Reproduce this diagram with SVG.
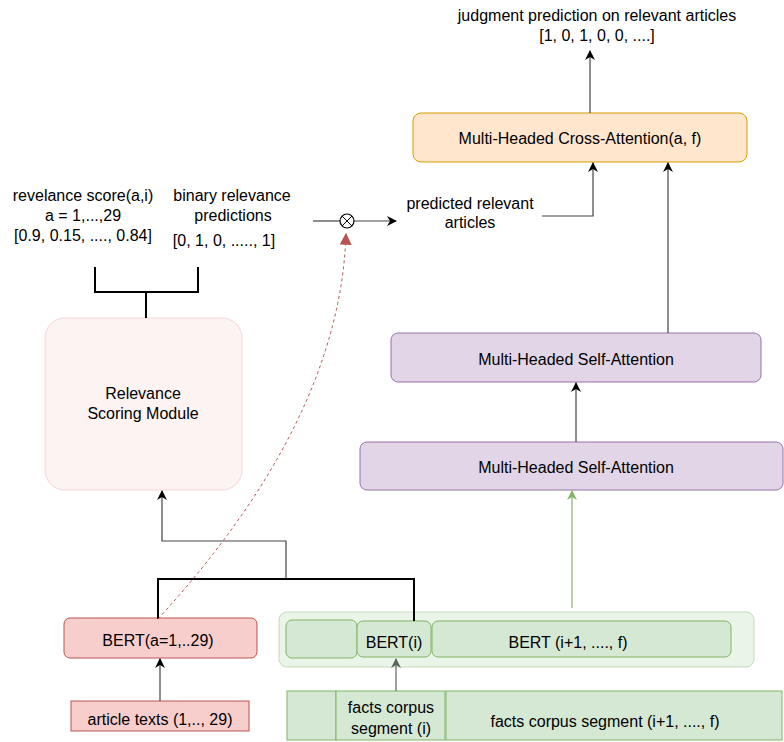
<svg xmlns="http://www.w3.org/2000/svg" width="784" height="742" viewBox="0 0 784 742">
<defs>
<marker id="arr" viewBox="0 0 10 10" refX="9" refY="5" markerWidth="10" markerHeight="10" markerUnits="userSpaceOnUse" orient="auto">
<path d="M0,0 L10,5 L0,10 L3,5 Z" fill="#000"/>
</marker>
<marker id="arrG" viewBox="0 0 10 10" refX="9" refY="5" markerWidth="10" markerHeight="10" markerUnits="userSpaceOnUse" orient="auto">
<path d="M0,0 L10,5 L0,10 L3,5 Z" fill="#82b366"/>
</marker>
<marker id="arrD" viewBox="0 0 10 10" refX="9" refY="5" markerWidth="10" markerHeight="10" markerUnits="userSpaceOnUse" orient="auto">
<path d="M0,0 L10,5 L0,10 L3,5 Z" fill="#5a645c"/>
</marker>
<marker id="arrR" viewBox="0 0 10 10" refX="9" refY="5" markerWidth="14" markerHeight="12" markerUnits="userSpaceOnUse" orient="auto">
<path d="M0,0 L10,5 L0,10 Z" fill="#b85450"/>
</marker>
</defs>
<style>
text{font-family:"Liberation Sans",Arial,sans-serif;font-size:16px;fill:#000;text-anchor:middle;dominant-baseline:central}
.ln{fill:none;stroke:#444;stroke-width:1.2}
.thick{fill:none;stroke:#000;stroke-width:2}
.red{fill:#f8cecc;stroke:#b85450;stroke-width:1}
.grn{fill:#d5e8d4;stroke:#82b366;stroke-width:1}
.pur{fill:#e1d5e7;stroke:#9673a6;stroke-width:1}
</style>
<rect width="784" height="742" fill="#fff"/>

<g id="judgment">
<text x="597" y="15">judgment prediction on relevant articles</text>
<text x="597" y="35">[1, 0, 1, 0, 0, ....]</text>
</g>

<g id="cross-attention">
<rect x="413" y="113" width="334" height="49" rx="8" fill="#ffe6cc" stroke="#d79b00" stroke-width="1"/>
<text x="580" y="138">Multi-Headed Cross-Attention(a, f)</text>
</g>

<g id="predicted">
<text x="470" y="203">predicted relevant</text>
<text x="470" y="222">articles</text>
</g>

<g id="relevance-score">
<text x="83" y="195">revelance score(a,i)</text>
<text x="83" y="215">a = 1,...,29</text>
<text x="83" y="235">[0.9, 0.15, ...., 0.84]</text>
</g>

<g id="binary">
<text x="232" y="195">binary relevance</text>
<text x="233" y="215">predictions</text>
<text x="224" y="240">[0, 1, 0, ....., 1]</text>
</g>

<g id="self-attention-2">
<rect class="pur" x="391" y="333" width="370" height="49" rx="7"/>
<text x="576" y="359">Multi-Headed Self-Attention</text>
</g>

<g id="self-attention-1">
<rect class="pur" x="360" y="442" width="423" height="48" rx="7"/>
<text x="576" y="467">Multi-Headed Self-Attention</text>
</g>

<g id="relevance-module">
<rect x="45" y="318" width="197" height="172" rx="20" fill="#fdf3f3" stroke="#f6d6d5" stroke-width="1"/>
<text x="143" y="393">Relevance</text>
<text x="143" y="413">Scoring Module</text>
</g>

<g id="bert-a">
<rect class="red" x="64" y="618" width="193" height="40" rx="6"/>
<text x="158" y="640">BERT(a=1,..29)</text>
</g>

<g id="article-texts">
<rect class="red" x="71" y="701" width="178" height="30"/>
<text x="160" y="719">article texts (1,.., 29)</text>
</g>

<g id="bert-container">
<rect x="279" y="612" width="475" height="55" rx="8" fill="#eaf4e9" stroke="#c3dcb8" stroke-width="1"/>
</g>
<g id="bert-prev">
<rect class="grn" x="286" y="620" width="71" height="38" rx="6"/>
</g>
<g id="bert-i">
<rect class="grn" x="357" y="621" width="74" height="36" rx="6"/>
<text x="394" y="642">BERT(i)</text>
</g>
<g id="bert-rest">
<rect class="grn" x="432" y="621" width="299" height="36" rx="6"/>
<text x="568" y="642">BERT (i+1, ...., f)</text>
</g>

<g id="facts-prev">
<rect class="grn" x="287" y="691" width="49" height="49"/>
</g>
<g id="facts-i">
<rect class="grn" x="336" y="691" width="109" height="49"/>
<text x="391" y="707">facts corpus</text>
<text x="391" y="728">segment (i)</text>
</g>
<g id="facts-rest">
<rect class="grn" x="446" y="691" width="336" height="49"/>
<text x="605" y="721">facts corpus segment (i+1, ...., f)</text>
</g>

<g id="connectors">
<line class="ln" x1="590" y1="113" x2="590" y2="51" marker-end="url(#arr)"/>
<polyline class="ln" points="542,216 593,216 593,163" marker-end="url(#arr)"/>
<line class="ln" x1="668" y1="333" x2="668" y2="163" marker-end="url(#arr)"/>
<line class="ln" x1="576" y1="442" x2="576" y2="383" marker-end="url(#arr)"/>
<line x1="572" y1="608" x2="572" y2="491" stroke="#82b366" stroke-width="1.2" marker-end="url(#arrG)"/>
<line class="ln" x1="313" y1="221" x2="340" y2="221"/>
<line class="ln" x1="354" y1="221" x2="396" y2="221" marker-end="url(#arr)"/>
<polyline class="thick" points="95,267 95,292 198,292 198,267"/>
<line class="thick" x1="146" y1="292" x2="146" y2="318"/>
<polyline class="ln" points="286,579 286,541 162,541 162,491" marker-end="url(#arr)"/>
<polyline class="thick" points="158,619 158,579 414,579 414,621"/>
<line class="ln" x1="160" y1="701" x2="160" y2="659" marker-end="url(#arr)"/>
<line x1="396" y1="691" x2="396" y2="659" stroke="#5a645c" stroke-width="1.2" marker-end="url(#arrD)"/>
<path d="M158,619 Q340,420 346,234" fill="none" stroke="#b85450" stroke-width="1" stroke-dasharray="3,3" marker-end="url(#arrR)"/>
</g>

<g id="mult">
<circle cx="347" cy="221" r="7" fill="#fff" stroke="#000" stroke-width="1.2"/>
<line x1="342" y1="216" x2="352" y2="226" stroke="#000" stroke-width="1"/>
<line x1="352" y1="216" x2="342" y2="226" stroke="#000" stroke-width="1"/>
</g>
</svg>
